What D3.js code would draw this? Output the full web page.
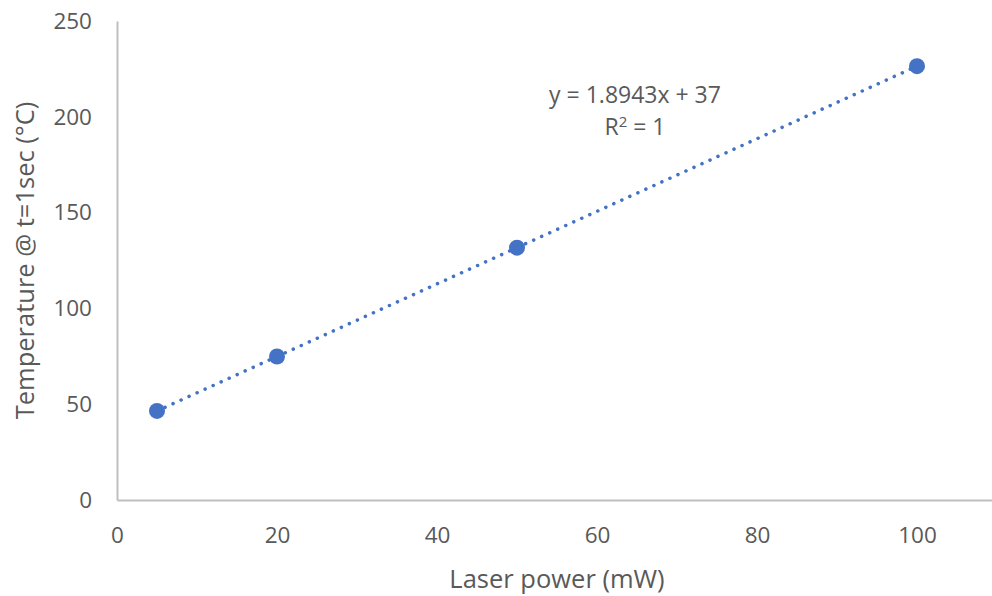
<!DOCTYPE html>
<html>
<head>
<meta charset="utf-8">
<script src="https://cdn.jsdelivr.net/npm/d3@7"></script>
<style>
  html, body { margin: 0; padding: 0; background: #fff; }
  svg text { font-family: "Open Sans", "Noto Sans", sans-serif; fill: #595959; }
</style>
</head>
<body>
<svg id="chart" width="992" height="596"></svg>
<script>
// Measured temperature after 1 s at each laser power
const laserPower = [5, 20, 50, 100];
const temperature = [46.5, 74.9, 131.7, 226.4];

// Linear trendline coefficients and fit quality
const slope = 1.8943;
const intercept = 37;
const rSquared = 1;

const xTicks = [0, 20, 40, 60, 80, 100];
const yTicks = [0, 50, 100, 150, 200, 250];

const xTitle = "Laser power (mW)";
const yTitle = "Temperature @ t=1sec (°C)";

const svg = d3.select("#chart");
const margin = { left: 117, top: 21, bottom: 96 };
const W = 992, H = 596;

const x = d3.scaleLinear().domain([0, 110]).range([margin.left, 997]);
const y = d3.scaleLinear().domain([0, 250]).range([H - margin.bottom, margin.top]);

const blue = "#4472C4";
const axisGray = "#BFBFBF";
const tickSize = 22.5;
const titleSize = 25.5;
const labelSize = 23;

// Axes
const xAxis = svg.append("g")
  .attr("transform", `translate(0,${y(0)})`)
  .call(d3.axisBottom(x).tickValues(xTicks).tickSize(0).tickPadding(27).tickFormat(d3.format("d")));
const yAxis = svg.append("g")
  .attr("transform", `translate(${x(0)},0)`)
  .call(d3.axisLeft(y).tickValues(yTicks).tickSize(0).tickPadding(25).tickFormat(d3.format("d")));

[xAxis, yAxis].forEach(g => {
  g.select(".domain").attr("stroke", axisGray).attr("stroke-width", 2);
  g.selectAll("text").style("font-size", tickSize + "px").attr("fill", "#595959");
});

// Trendline from the first to the last measured power
const trendX = d3.extent(laserPower);
svg.append("line")
  .attr("x1", x(trendX[0])).attr("y1", y(slope * trendX[0] + intercept))
  .attr("x2", x(trendX[1])).attr("y2", y(slope * trendX[1] + intercept))
  .attr("stroke", blue)
  .attr("stroke-width", 3.5)
  .attr("stroke-linecap", "round")
  .attr("stroke-dasharray", "0.1 8.7");

// Data markers
svg.append("g").selectAll("circle")
  .data(laserPower.map((p, i) => [p, temperature[i]]))
  .join("circle")
  .attr("cx", d => x(d[0]))
  .attr("cy", d => y(d[1]))
  .attr("r", 8)
  .attr("fill", blue);

// Trendline equation label
svg.append("text")
  .attr("x", 635).attr("y", 103)
  .attr("text-anchor", "middle")
  .style("font-size", labelSize + "px")
  .text(`y = ${slope}x + ${intercept}`);
const r2 = svg.append("text")
  .attr("x", 635).attr("y", 135)
  .attr("text-anchor", "middle")
  .style("font-size", labelSize + "px");
r2.append("tspan").text("R");
r2.append("tspan").attr("dy", -8).style("font-size", "15px").text("2");
r2.append("tspan").attr("dy", 8).text(` = ${rSquared}`);

// Axis titles
svg.append("text")
  .attr("x", (x.range()[0] + x.range()[1]) / 2)
  .attr("y", 588)
  .attr("text-anchor", "middle")
  .style("font-size", titleSize + "px")
  .text(xTitle);

svg.append("text")
  .attr("transform", `translate(34,${(y.range()[0] + y.range()[1]) / 2}) rotate(-90)`)
  .attr("text-anchor", "middle")
  .style("font-size", titleSize + "px")
  .text(yTitle);
</script>
</body>
</html>
